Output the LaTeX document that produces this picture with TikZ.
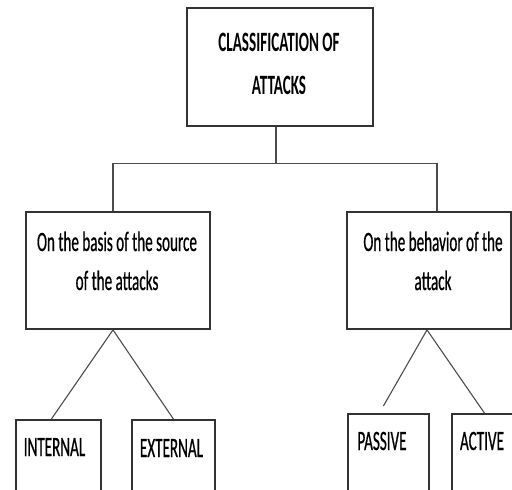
\documentclass[tikz,border=0pt]{standalone}
\usepackage{fontspec}
\setmainfont{Carlito}[FakeStretch=0.54]
\newfontfamily\regfont{Carlito}[FakeStretch=0.54, FakeBold=0.6]
\begin{document}
\begin{tikzpicture}[x=1pt,y=-1pt,
  box/.style={draw=black!80, line width=1.8pt, minimum width=#1, inner sep=0pt},
  conn/.style={line width=1.1pt, draw=black!70},
  txt/.style={font=\regfont\fontsize{28}{28}\selectfont, inner sep=0pt, anchor=base},
  btxt/.style={font=\fontsize{28}{28}\selectfont\bfseries, inner sep=0pt, anchor=base}]
\useasboundingbox (0,0) rectangle (512,490);
\clip (0,0) rectangle (512,490);
% boxes
\node[box=186pt, minimum height=118pt] (top) at (280,67) {};
\node[box=184pt, minimum height=117pt] (src) at (118,270.5) {};
\node[box=164pt, minimum height=117pt] (beh) at (429,270.5) {};
\node[box=85pt, minimum height=120pt, anchor=north west] (int) at (15,419) {};
\node[box=83pt, minimum height=120pt, anchor=north west] (ext) at (131,419) {};
\node[box=81pt, minimum height=120pt, anchor=north west] (pas) at (347,413) {};
\node[box=81pt, minimum height=120pt, anchor=north west] (act) at (451,413) {};
% texts
\node[btxt] (t1) at (279,51) {CLASSIFICATION OF};
\node[btxt] (t2) at (279,94) {ATTACKS};
\node[txt] (s1) at (117,251) {On the basis of the source};
\node[txt] (s2) at (117,290) {of the attacks};
\node[txt] (b1) at (433,251) {On the behavior of the};
\node[txt] (b2) at (433,290) {attack};
\node[txt] (ti) at (54.5,456) {INTERNAL};
\node[txt] (te) at (171.5,457) {EXTERNAL};
\node[txt] (tp) at (382,450) {PASSIVE};
\node[txt] (ta) at (482,450) {ACTIVE};
% anchor points
\coordinate (topb) at ([xshift=-4pt]top.south);
\coordinate (srct) at ([xshift=-5pt]src.north);
\coordinate (beht) at ([xshift=8pt]beh.north);
\coordinate (srcb) at ([xshift=-5pt]src.south);
\coordinate (behb) at ([xshift=-2pt]beh.south);
\coordinate (intt) at ([xshift=-7pt]int.north);
\coordinate (past) at ([xshift=-5pt,yshift=7pt]pas.north);
\coordinate (actt) at ([xshift=-8pt]act.north);
% connectors
\draw[conn] (topb) -- ++(0,37) coordinate (j);
\draw[conn] (srct) |- (j) -| (beht);
\draw[conn] (srcb) -- (intt);
\draw[conn] (srcb) -- (ext.north);
\draw[conn] (behb) -- (past);
\draw[conn] (behb) -- (actt);
\end{tikzpicture}
\end{document}
